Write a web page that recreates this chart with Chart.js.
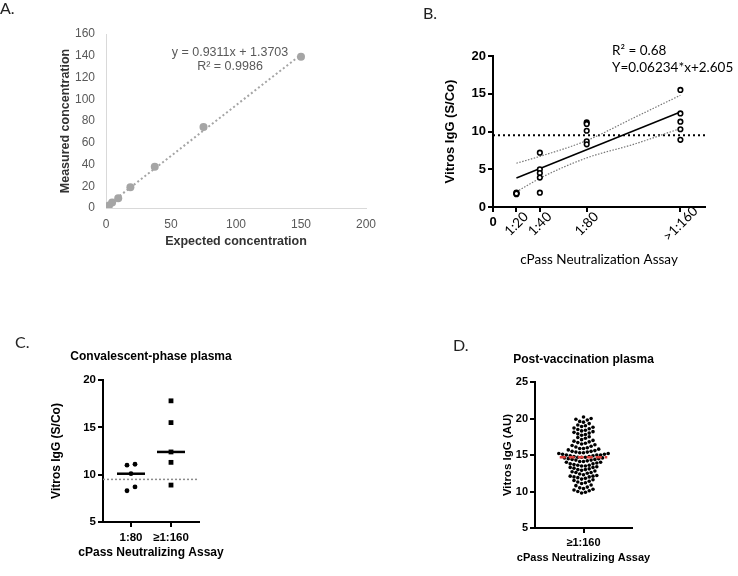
<!DOCTYPE html>
<html><head><meta charset="utf-8">
<script src="https://cdn.jsdelivr.net/npm/chart.js@4/dist/chart.umd.min.js"></script>
<style>
body{margin:0;background:#fff;width:738px;height:576px;position:relative;overflow:hidden}
.pane{position:absolute}
canvas{display:block}
</style></head><body>
<div class="pane" style="left:0;top:0"><canvas id="cA" width="385" height="260"></canvas></div>
<div class="pane" style="left:370px;top:0"><canvas id="cB" width="368" height="300"></canvas></div>
<div class="pane" style="left:0;top:300px"><canvas id="cC" width="370" height="276"></canvas></div>
<div class="pane" style="left:370px;top:300px"><canvas id="cD" width="368" height="276"></canvas></div>
<script>
// ---------- DATA ----------
// Panel A: linearity
const aExpected = [2.3, 4.7, 9.4, 18.75, 37.5, 75, 150];
const aMeasured = [2.3, 5.0, 9.0, 19.0, 38.0, 74.5, 139.0];
const aTrendX = [2.3, 150];
const aTrendY = [3.5, 141.0];
const aEquation = 'y = 0.9311x + 1.3703';
const aR2 = 'R² = 0.9986';

// Panel B: Vitros IgG vs cPass titre
const bTickValues = [0, 20, 40, 80, 160];
const bTickLabels = ['0', '1:20', '1:40', '1:80', '>1:160'];
const bTiters = [20, 40, 80, 160];
const bValues20 = [1.9, 1.8, 1.7, 1.8];
const bValues40 = [7.2, 5.0, 4.5, 3.9, 1.9];
const bValues80 = [11.2, 11.0, 10.1, 8.7, 8.3];
const bValues160 = [15.5, 12.4, 11.3, 10.3, 8.9];
const bFitX = [20, 160];
const bFitY = [3.85, 12.58];
const bBandX = [20, 40, 80, 120, 160];
const bBandUpper = [5.8, 6.7, 8.8, 11.8, 14.8];
const bBandLower = [2.0, 3.8, 6.5, 8.3, 10.4];
const bCutoff = 9.5;

// Panel C: convalescent-phase plasma
const cCategories = ['1:80', '≥1:160'];
const cValues80 = [11.1, 11.0, 10.1, 8.7, 8.3];
const cValues160 = [17.8, 15.5, 12.4, 11.3, 8.9];
const cCutoff = 9.5;

// Panel D: post-vaccination plasma
const dCategories = ['≥1:160'];
const dValues = [
  20.2, 20.0, 19.9, 19.8, 19.6, 19.5,
  19.3, 19.1, 19.0, 18.9,
  18.8, 18.7, 18.6, 18.5, 18.4,
  18.3, 18.2, 18.1, 18.0, 17.9,
  17.8, 17.7, 17.5, 17.4,
  17.3, 17.1, 17.0, 16.9, 16.8,
  16.7, 16.6, 16.5, 16.4, 16.3, 16.2,
  16.1, 16.0, 15.9, 15.9, 15.8, 15.7, 15.6, 15.5,
  15.5, 15.4, 15.4, 15.3, 15.3, 15.2, 15.2, 15.1, 15.1, 15.0, 15.0, 15.0,
  14.9, 14.9, 14.8, 14.8, 14.7, 14.7, 14.7, 14.6, 14.6, 14.5, 14.5,
  14.4, 14.4, 14.3, 14.3, 14.2, 14.1, 14.1, 14.0, 14.0,
  13.9, 13.8, 13.8, 13.7, 13.6, 13.6, 13.5, 13.5,
  13.4, 13.3, 13.3, 13.2, 13.1, 13.0, 13.0, 12.9,
  12.8, 12.7, 12.6, 12.6, 12.5,
  12.4, 12.3, 12.2, 12.1, 12.1, 12.0, 12.0,
  11.9, 11.8, 11.7, 11.6, 11.5,
  11.4, 11.3, 11.2, 11.1,
  10.9, 10.8, 10.6, 10.5,
  10.4, 10.3, 10.2, 10.1, 10.0,
  9.9, 9.8
];

// ---------- HELPERS ----------
const ARIAL = "'Liberation Sans', Arial, sans-serif";
const CAL = "Lato, 'Open Sans', sans-serif";
function median(arr){ const s=[...arr].sort((a,b)=>a-b); const n=s.length; return n%2? s[(n-1)/2] : (s[n/2-1]+s[n/2])/2; }

function textPlugin(items){
  return { id:'texts', afterDraw(chart){
    const ctx=chart.ctx, a=chart.chartArea;
    items.forEach(t=>{
      ctx.save();
      ctx.font=t.font; ctx.fillStyle=t.color||'#000';
      ctx.textAlign=t.align||'center'; ctx.textBaseline='middle';
      let x = t.x==='center' ? (a.left+a.right)/2 : (t.xv!==undefined ? chart.scales.x.getPixelForValue(t.xv) : t.x);
      let y = t.y==='middle' ? (a.top+a.bottom)/2 : t.y;
      ctx.translate(x,y); if(t.rot) ctx.rotate(t.rot*Math.PI/180);
      ctx.fillText(t.text,0,0); ctx.restore();
    });
  }};
}
const swarmPlugin = { id:'swarm', afterDatasetUpdate(chart,args){
  const ds=chart.data.datasets[args.index]; if(!ds.swarmGap) return;
  const els=args.meta.data; const g=ds.swarmGap;
  const idx=els.map((e,i)=>i).sort((a,b)=>els[b].y-els[a].y);
  const rows=[]; let cur=[], start=null;
  idx.forEach(i=>{ const y=els[i].y; if(start===null||Math.abs(start-y)>=g){ if(cur.length) rows.push(cur); cur=[i]; start=y; } else cur.push(i); });
  if(cur.length) rows.push(cur);
  rows.forEach(r=>{ const n=r.length; const pos=r.map((_,k)=>k-(n-1)/2).sort((p,q)=>Math.abs(p)-Math.abs(q)||p-q);
    r.forEach((i,k)=>{ els[i].x += pos[k]*g; }); });
}};
function fixY(L){ return s=>{ s.width=L; s.paddingTop=0; s.paddingBottom=0; }; }
function fixX(h){ return s=>{ s.height=h; s.paddingLeft=0; s.paddingRight=0; }; }
const base = { responsive:false, animation:false, events:[],
  plugins:{ legend:{display:false}, tooltip:{enabled:false} } };
function pts(xs, ys){ return xs.map((x,i)=>({x, y:ys[i]})); }
const gpGrid = { display:true, drawOnChartArea:false, drawTicks:true, tickLength:5, lineWidth:2, color:'#000' };
const gpBorder = { display:true, width:2, color:'#000' };

// ---------- PANEL A ----------
new Chart(document.getElementById('cA'), {
  type:'scatter',
  data:{ datasets:[
    { data:pts(aExpected,aMeasured), pointRadius:4, backgroundColor:'#a5a5a5', borderWidth:0 },
    { data:pts(aTrendX,aTrendY), showLine:true, pointRadius:0, borderColor:'#a5a5a5', borderWidth:2, borderDash:[2,2.5] }
  ]},
  options:{ ...base,
    layout:{ padding:{ left:0, top:34, right:19, bottom:0 } },
    scales:{
      x:{ type:'linear', min:0, max:200, afterFit:fixX(52),
        ticks:{ stepSize:50, padding:9, color:'#595959', font:{family:ARIAL,size:12} },
        grid:{ display:false, drawTicks:false }, border:{ display:true, color:'#d9d9d9', width:1 } },
      y:{ min:0, max:160, afterFit:fixY(106),
        ticks:{ stepSize:20, padding:11, color:'#595959', font:{family:ARIAL,size:12} },
        grid:{ display:false, drawTicks:false }, border:{ display:true, color:'#d9d9d9', width:1 } }
    }
  },
  plugins:[ textPlugin([
    { text:'A.', x:0, y:9, align:'left', font:'16px '+CAL, color:'#222' },
    { text:aEquation, x:230, y:53, font:'12.5px '+ARIAL, color:'#595959' },
    { text:aR2, x:230, y:67, font:'12.5px '+ARIAL, color:'#595959' },
    { text:'Measured concentration', x:66, y:'middle', rot:-90, font:'bold 12.5px '+ARIAL, color:'#333' },
    { text:'Expected concentration', x:'center', y:242, font:'bold 12.5px '+ARIAL, color:'#333' }
  ]) ]
});

// ---------- PANEL B ----------
const bPoints = [].concat(
  bValues20.map(v=>({x:bTiters[0],y:v})), bValues40.map(v=>({x:bTiters[1],y:v})),
  bValues80.map(v=>({x:bTiters[2],y:v})), bValues160.map(v=>({x:bTiters[3],y:v})));
const bTickTexts = bTickValues.map((v,i)=> i===0
  ? { text:bTickLabels[i], xv:v, y:222, font:'bold 13px '+ARIAL }
  : { text:bTickLabels[i], xv:v, y:224, rot:-45, font:'13.5px '+CAL });
new Chart(document.getElementById('cB'), {
  type:'scatter',
  data:{ datasets:[
    { data:bPoints, pointRadius:2.3, borderWidth:1.6, borderColor:'#000', backgroundColor:'#fff' },
    { data:pts(bFitX,bFitY), showLine:true, pointRadius:0, borderColor:'#000', borderWidth:1.5 },
    { data:pts(bBandX,bBandUpper), showLine:true, pointRadius:0, borderColor:'#777', borderWidth:1.2, borderDash:[1.5,1.5], cubicInterpolationMode:'monotone' },
    { data:pts(bBandX,bBandLower), showLine:true, pointRadius:0, borderColor:'#777', borderWidth:1.2, borderDash:[1.5,1.5], cubicInterpolationMode:'monotone' },
    { data:[{x:0,y:bCutoff},{x:181,y:bCutoff}], showLine:true, pointRadius:0, borderColor:'#000', borderWidth:2, borderDash:[2,3] }
  ]},
  options:{ ...base,
    layout:{ padding:{ left:0, top:56, right:33, bottom:0 } },
    scales:{
      x:{ type:'linear', min:0, max:181, afterFit:fixX(93),
        afterBuildTicks:s=>{ s.ticks = bTickValues.map(v=>({value:v})); },
        ticks:{ display:false }, grid:gpGrid, border:gpBorder },
      y:{ min:0, max:20, afterFit:fixY(123),
        ticks:{ stepSize:5, padding:2, color:'#000', font:{family:ARIAL,size:13,weight:'bold'} },
        grid:gpGrid, border:gpBorder }
    }
  },
  plugins:[ textPlugin([
    { text:'B.', x:53, y:14, align:'left', font:'16px '+CAL, color:'#222' },
    { text:'R² = 0.68', x:242, y:51, align:'left', font:'13.5px '+CAL },
    { text:'Y=0.06234*x+2.605', x:242, y:68, align:'left', font:'13.5px '+CAL },
    { text:'Vitros IgG (S/Co)', x:80, y:'middle', rot:-90, font:'bold 13px '+ARIAL },
    { text:'cPass Neutralization Assay', x:'center', y:260, font:'13.5px '+CAL }
  ].concat(bTickTexts)) ]
});

// ---------- PANEL C ----------
const cMed80 = median(cValues80), cMed160 = median(cValues160);
new Chart(document.getElementById('cC'), {
  type:'scatter',
  data:{ datasets:[
    { data:cValues80.map(v=>({x:0,y:v})), pointRadius:2.4, backgroundColor:'#000', borderWidth:0, swarmGap:8 },
    { data:cValues160.map(v=>({x:1,y:v})), pointStyle:'rect', pointRadius:3.4, backgroundColor:'#000', borderWidth:0, swarmGap:8 },
    { data:[{x:-0.35,y:cMed80},{x:0.35,y:cMed80}], showLine:true, pointRadius:0, borderColor:'#000', borderWidth:2.5 },
    { data:[{x:0.65,y:cMed160},{x:1.35,y:cMed160}], showLine:true, pointRadius:0, borderColor:'#000', borderWidth:2.5 },
    { data:[{x:-0.7,y:cCutoff},{x:1.7,y:cCutoff}], showLine:true, pointRadius:0, borderColor:'#8c8c8c', borderWidth:1.5, borderDash:[2,2] }
  ]},
  options:{ ...base,
    layout:{ padding:{ left:0, top:80, right:171, bottom:0 } },
    scales:{
      x:{ type:'linear', min:-0.7, max:1.7, afterFit:fixX(54),
        afterBuildTicks:s=>{ s.ticks = cCategories.map((c,i)=>({value:i})); },
        ticks:{ callback:v=>cCategories[v], padding:4, color:'#000', maxRotation:0, font:{family:ARIAL,size:11.5,weight:'bold'} },
        grid:gpGrid, border:gpBorder },
      y:{ min:5, max:20, afterFit:fixY(103),
        ticks:{ stepSize:5, padding:2, color:'#000', font:{family:ARIAL,size:11.5,weight:'bold'} },
        grid:gpGrid, border:gpBorder }
    }
  },
  plugins:[ swarmPlugin, textPlugin([
    { text:'C.', x:15, y:43, align:'left', font:'16px '+CAL, color:'#222' },
    { text:'Convalescent-phase plasma', x:'center', y:57, font:'bold 12px '+ARIAL },
    { text:'Vitros IgG (S/Co)', x:57, y:'middle', rot:-90, font:'bold 12px '+ARIAL },
    { text:'cPass Neutralizing Assay', x:'center', y:253, font:'bold 12px '+ARIAL }
  ]) ]
});

// ---------- PANEL D ----------
const dMed = median(dValues);
new Chart(document.getElementById('cD'), {
  type:'scatter',
  data:{ datasets:[
    { data:[{x:-0.49,y:dMed},{x:0.49,y:dMed}], showLine:true, pointRadius:0, borderColor:'#d9413c', borderWidth:2.5, borderDash:[6,3] },
    { data:dValues.map(v=>({x:0,y:v})), pointRadius:1.8, backgroundColor:'#000', borderWidth:0, swarmGap:3.8 }
  ]},
  options:{ ...base,
    layout:{ padding:{ left:0, top:82, right:106, bottom:0 } },
    scales:{
      x:{ type:'linear', min:-1, max:1, afterFit:fixX(48),
        afterBuildTicks:s=>{ s.ticks = dCategories.map((c,i)=>({value:i})); },
        ticks:{ callback:v=>dCategories[v], padding:3, color:'#000', maxRotation:0, font:{family:ARIAL,size:11,weight:'bold'} },
        grid:gpGrid, border:gpBorder },
      y:{ min:5, max:25, afterFit:fixY(165),
        ticks:{ stepSize:5, padding:2, color:'#000', font:{family:ARIAL,size:11,weight:'bold'} },
        grid:gpGrid, border:gpBorder }
    }
  },
  plugins:[ swarmPlugin, textPlugin([
    { text:'D.', x:83, y:46, align:'left', font:'16px '+CAL, color:'#222' },
    { text:'Post-vaccination plasma', x:'center', y:60, font:'bold 12px '+ARIAL },
    { text:'Vitros IgG (AU)', x:138, y:'middle', rot:-90, font:'bold 11.5px '+ARIAL },
    { text:'cPass Neutralizing Assay', x:'center', y:258, font:'bold 11px '+ARIAL }
  ]) ]
});
</script>
</body></html>
